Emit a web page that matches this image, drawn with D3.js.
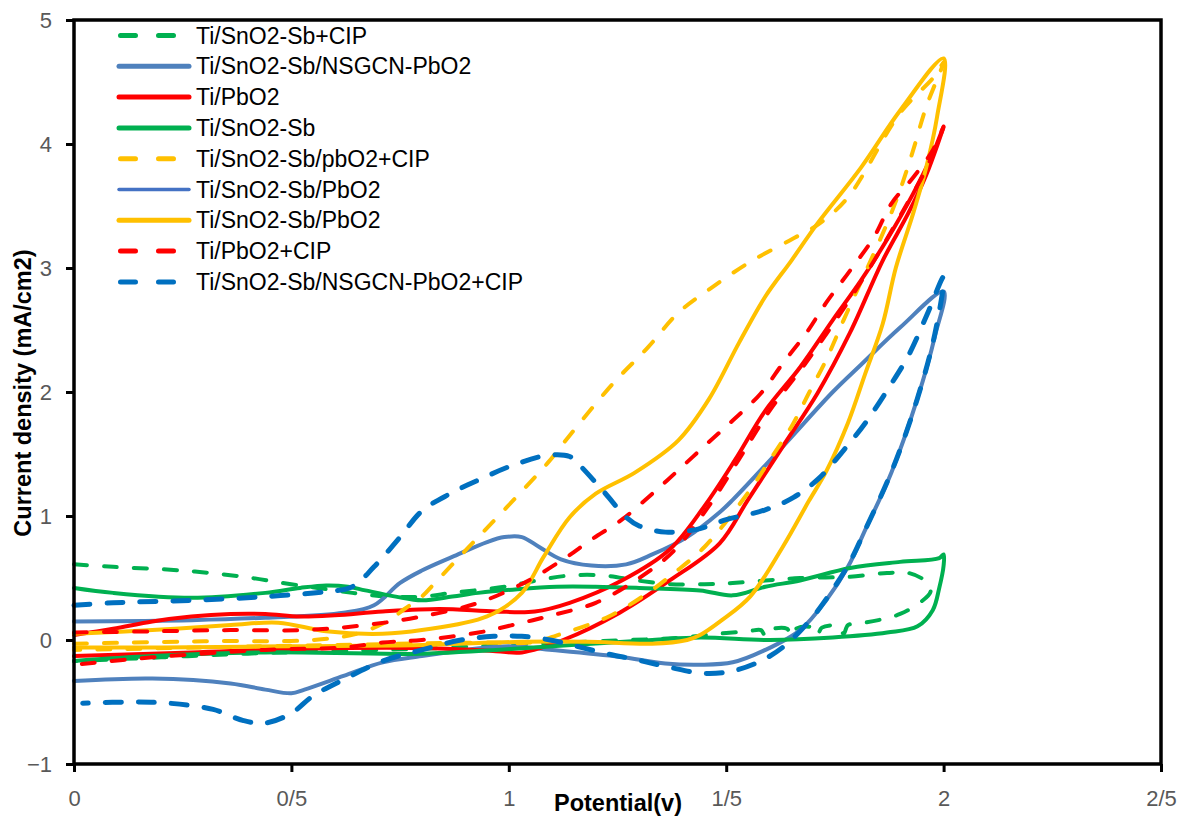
<!DOCTYPE html>
<html>
<head>
<meta charset="utf-8">
<script src="https://cdn.jsdelivr.net/npm/d3@7"></script>
<style>
  body { margin: 0; background: #fff; }
  svg { display: block; }
</style>
</head>
<body>
<script>
// cyclic voltammograms: [potential, current density]
const seriesNames = [
  "Ti/SnO2-Sb+CIP",
  "Ti/SnO2-Sb/NSGCN-PbO2",
  "Ti/PbO2",
  "Ti/SnO2-Sb",
  "Ti/SnO2-Sb/pbO2+CIP",
  "Ti/SnO2-Sb/PbO2",
  "Ti/SnO2-Sb/PbO2",
  "Ti/PbO2+CIP",
  "Ti/SnO2-Sb/NSGCN-PbO2+CIP"
]

const xTicks = [0, 0.5, 1, 1.5, 2, 2.5]
const xTickLabels = ["0", "0/5", "1", "1/5", "2", "2/5"]
const yTicks = [-1, 0, 1, 2, 3, 4, 5]

const snoSbCip = [
  [0,0.61],[0.09,0.59],[0.25,0.56],[0.39,0.51],[0.48,0.46],[0.56,0.42],[0.64,0.38],[0.72,0.35],
  [0.8,0.35],[0.87,0.38],[0.99,0.43],[1.065,0.48],[1.14,0.52],[1.22,0.52],[1.295,0.48],[1.37,0.45],
  [1.45,0.45],[1.515,0.46],[1.59,0.48],[1.67,0.5],[1.785,0.51],[1.87,0.54],[1.92,0.54],[1.96,0.47],
  [1.97,0.39],[1.945,0.3],[1.9,0.21],[1.85,0.16],[1.8,0.13],[1.78,0.12],[1.77,0.05],[1.76,0.11],
  [1.72,0.1],[1.71,0.04],[1.7,0.1],[1.66,0.09],[1.65,0.03],[1.64,0.09],[1.6,0.08],[1.59,0.03],
  [1.58,0.08],[1.55,0.07],[1.48,0.05],[1.4,0.02],[1.2,-0.01],[1.0,-0.04],[0.8,-0.07],[0.6,-0.09],
  [0.4,-0.11],[0.2,-0.14],[0,-0.17]
]

const nsgcnPbo2 = [
  [0,0.15],[0.27,0.16],[0.44,0.18],[0.62,0.22],[0.69,0.28],[0.75,0.46],[0.8,0.56],[0.87,0.67],
  [0.95,0.79],[0.99,0.83],[1.03,0.83],[1.07,0.75],[1.12,0.65],[1.19,0.6],[1.27,0.61],[1.33,0.69],
  [1.41,0.83],[1.485,1.03],[1.515,1.13],[1.63,1.56],[1.745,2.0],[1.81,2.22],[1.9,2.52],[2.0,2.81],
  [1.98,2.45],[1.94,1.95],[1.88,1.35],[1.82,0.89],[1.78,0.59],[1.73,0.32],[1.67,0.08],[1.59,-0.08],
  [1.515,-0.18],[1.44,-0.2],[1.36,-0.19],[1.255,-0.135],[1.1,-0.08],[1.0,-0.05],[0.9,-0.08],
  [0.8,-0.13],[0.71,-0.18],[0.62,-0.29],[0.53,-0.4],[0.5,-0.43],[0.44,-0.4],[0.36,-0.35],
  [0.18,-0.31],[0,-0.33]
]

const tiPbo2 = [
  [0,0.04],[0.09,0.09],[0.18,0.15],[0.27,0.19],[0.36,0.21],[0.44,0.21],[0.52,0.19],[0.6,0.2],
  [0.71,0.23],[0.84,0.25],[0.97,0.23],[1.06,0.23],[1.14,0.3],[1.26,0.48],[1.37,0.73],[1.45,1.08],
  [1.52,1.45],[1.59,1.85],[1.67,2.2],[1.745,2.58],[1.81,2.9],[1.87,3.23],[1.93,3.6],[1.975,3.92],
  [2.0,4.14],[1.96,3.75],[1.92,3.45],[1.86,3.06],[1.785,2.48],[1.71,1.99],[1.63,1.56],[1.55,1.13],
  [1.485,0.78],[1.37,0.48],[1.255,0.22],[1.125,0.0],[1.03,-0.1],[0.97,-0.09],[0.8,-0.065],
  [0.53,-0.07],[0.27,-0.1],[0,-0.13]
]

const snoSb = [
  [0,0.42],[0.09,0.38],[0.27,0.34],[0.44,0.38],[0.52,0.42],[0.58,0.44],[0.63,0.43],[0.67,0.4],
  [0.74,0.35],[0.8,0.32],[0.87,0.35],[0.93,0.38],[1.02,0.41],[1.11,0.43],[1.2,0.43],[1.3,0.42],
  [1.44,0.4],[1.515,0.36],[1.59,0.43],[1.67,0.48],[1.785,0.58],[1.9,0.63],[1.99,0.66],[2.0,0.69],
  [2.0,0.6],[1.99,0.42],[1.975,0.24],[1.94,0.11],[1.87,0.06],[1.745,0.02],[1.6,0.0],[1.44,0.02],
  [1.33,0.0],[1.1,-0.05],[0.8,-0.11],[0.44,-0.1],[0.18,-0.13],[0,-0.17]
]

const snoSbPbo2Cip = [
  [0,-0.03],[0.3,-0.01],[0.55,0.0],[0.65,0.05],[0.72,0.15],[0.76,0.25],[0.8,0.35],[0.83,0.46],
  [0.9,0.72],[0.96,0.94],[1.03,1.2],[1.09,1.43],[1.14,1.65],[1.24,2.07],[1.32,2.36],[1.39,2.64],
  [1.47,2.85],[1.56,3.06],[1.65,3.23],[1.715,3.36],[1.78,3.57],[1.9,4.25],[1.98,4.55],[2.0,4.66],
  [1.96,4.3],[1.93,3.95],[1.9,3.63],[1.87,3.36],[1.84,3.12],[1.77,2.58],[1.73,2.26],[1.69,1.99],
  [1.65,1.72],[1.6,1.45],[1.555,1.21],[1.45,0.75],[1.38,0.54],[1.32,0.38],[1.23,0.19],[1.13,0.06],
  [1.05,-0.02],[0.95,-0.02],[0.6,-0.04],[0.3,-0.06],[0,-0.08]
]

const snoSbPbo2Blue = []

const snoSbPbo2 = [
  [0,0.05],[0.18,0.08],[0.36,0.12],[0.47,0.14],[0.58,0.07],[0.71,0.05],[0.8,0.08],[0.95,0.19],
  [1.03,0.38],[1.08,0.67],[1.14,0.99],[1.2,1.18],[1.29,1.35],[1.39,1.61],[1.46,1.94],[1.53,2.4],
  [1.59,2.77],[1.65,3.06],[1.71,3.36],[1.81,3.81],[1.9,4.27],[2.0,4.69],[1.985,4.22],[1.96,3.81],
  [1.93,3.44],[1.89,3.0],[1.86,2.55],[1.82,2.15],[1.78,1.75],[1.73,1.36],[1.69,1.12],[1.63,0.75],
  [1.555,0.35],[1.49,0.16],[1.44,0.04],[1.41,0.0],[1.33,-0.03],[1.18,-0.015],[1.03,-0.015],
  [0.8,-0.04],[0.5,-0.05],[0.2,-0.06],[0,-0.06]
]

const tiPbo2Cip = [
  [0,0.06],[0.18,0.07],[0.36,0.08],[0.53,0.08],[0.67,0.12],[0.8,0.19],[0.93,0.3],[1.04,0.47],
  [1.125,0.65],[1.19,0.81],[1.26,0.97],[1.33,1.18],[1.39,1.37],[1.455,1.58],[1.515,1.77],[1.58,1.99],
  [1.63,2.23],[1.685,2.48],[1.73,2.72],[1.785,2.98],[1.84,3.25],[1.88,3.52],[1.93,3.73],[1.975,3.95],
  [2.0,4.14],[1.96,3.8],[1.9,3.42],[1.83,3.0],[1.76,2.62],[1.68,2.22],[1.6,1.85],[1.53,1.46],
  [1.46,1.08],[1.38,0.72],[1.3,0.5],[1.2,0.3],[1.1,0.2],[1.02,0.13],[0.93,0.06],[0.8,0.0],
  [0.71,-0.02],[0.62,-0.06],[0.44,-0.08],[0.18,-0.14],[0,-0.2]
]

const nsgcnPbo2Cip = [
  [0,0.28],[0.09,0.3],[0.27,0.32],[0.44,0.35],[0.58,0.39],[0.64,0.43],[0.69,0.59],[0.75,0.83],
  [0.8,1.04],[0.865,1.18],[0.93,1.29],[1.01,1.41],[1.09,1.49],[1.14,1.48],[1.16,1.42],[1.22,1.19],
  [1.27,0.99],[1.3,0.92],[1.36,0.87],[1.43,0.89],[1.5,0.97],[1.59,1.05],[1.655,1.15],[1.715,1.31],
  [1.77,1.53],[1.82,1.75],[1.875,2.04],[1.92,2.3],[1.965,2.65],[2.0,2.93],[1.98,2.47],[1.94,1.95],
  [1.885,1.4],[1.82,0.89],[1.78,0.6],[1.73,0.33],[1.7,0.19],[1.64,-0.03],[1.585,-0.16],[1.515,-0.25],
  [1.45,-0.27],[1.37,-0.22],[1.295,-0.16],[1.225,-0.11],[1.155,-0.05],[1.095,0.0],[1.03,0.03],
  [0.965,0.03],[0.89,0.0],[0.8,-0.08],[0.71,-0.17],[0.62,-0.32],[0.55,-0.45],[0.5,-0.59],
  [0.44,-0.67],[0.39,-0.65],[0.32,-0.56],[0.22,-0.51],[0.14,-0.5],[0.02,-0.51]
]

const seriesData = [snoSbCip, nsgcnPbo2, tiPbo2, snoSb, snoSbPbo2Cip, snoSbPbo2Blue, snoSbPbo2, tiPbo2Cip, nsgcnPbo2Cip]

// look of each series (same order as the legend)
const styles = [
  { color: "#00B050", width: 4, dash: true },
  { color: "#4F81BD", width: 4, dash: false },
  { color: "#FF0000", width: 4, dash: false },
  { color: "#00B050", width: 4, dash: false },
  { color: "#FFC000", width: 4, dash: true },
  { color: "#4472C4", width: 3, dash: false },
  { color: "#FFC000", width: 4, dash: false },
  { color: "#FF0000", width: 4, dash: true },
  { color: "#0070C0", width: 5, dash: true }
]

const width = 1180
const height = 816
const plotLeft = 74, plotRight = 1161, plotTop = 20, plotBottom = 764

const svg = d3.select("body").append("svg")
    .attr("width", width)
    .attr("height", height)
    .style("font-family", "'Liberation Sans', Arial, sans-serif")

const x = d3.scaleLinear().domain([0, 2.5]).range([plotLeft, plotRight])
const y = d3.scaleLinear().domain([-1, 5]).range([plotBottom, plotTop])

// curves
const line = d3.line()
    .x(d => x(d[0]))
    .y(d => y(d[1]))
    .curve(d3.curveCatmullRom.alpha(0.5))

const plot = svg.append("g")
seriesData.forEach((data, i) => {
    if (!data.length) return
    const s = styles[i]
    plot.append("path")
        .datum(data)
        .attr("d", line)
        .attr("fill", "none")
        .attr("stroke", s.color)
        .attr("stroke-width", s.width)
        .attr("stroke-linejoin", "round")
        .attr("stroke-linecap", "round")
        .attr("stroke-dasharray", s.dash ? (s.width > 4 ? "16,17" : "13,17") : null)
})

// frame
svg.append("rect")
    .attr("x", plotLeft).attr("y", plotTop)
    .attr("width", plotRight - plotLeft).attr("height", plotBottom - plotTop)
    .attr("fill", "none")
    .attr("stroke", "#000")
    .attr("stroke-width", 3.5)

// axes
const yAxis = svg.append("g")
    .attr("transform", `translate(${plotLeft},0)`)
    .call(d3.axisLeft(y).tickValues(yTicks).tickSize(8).tickPadding(14).tickFormat(d3.format("d")))
yAxis.select(".domain").remove()
yAxis.selectAll(".tick line").attr("stroke", "#000").attr("stroke-width", 3)
yAxis.selectAll(".tick text")
    .attr("fill", "#595959")
    .style("font-size", "22px")
    .style("font-family", "'Liberation Sans', Arial, sans-serif")

const xAxis = svg.append("g")
    .attr("transform", `translate(0,${plotBottom})`)
    .call(d3.axisBottom(x).tickValues(xTicks).tickSize(8).tickPadding(18)
        .tickFormat((d, i) => xTickLabels[i]))
xAxis.select(".domain").remove()
xAxis.selectAll(".tick line").attr("stroke", "#000").attr("stroke-width", 3)
xAxis.selectAll(".tick text")
    .attr("fill", "#595959")
    .style("font-size", "22px")
    .style("font-family", "'Liberation Sans', Arial, sans-serif")

// axis titles
svg.append("text")
    .attr("x", 618).attr("y", 811)
    .attr("text-anchor", "middle")
    .style("font-size", "23.5px")
    .style("font-weight", "bold")
    .text("Potential(v)")

svg.append("text")
    .attr("transform", "translate(31,393) rotate(-90)")
    .attr("text-anchor", "middle")
    .style("font-size", "23.5px")
    .style("font-weight", "bold")
    .text("Current density (mA/cm2)")

// legend
const legend = svg.append("g")
seriesNames.forEach((name, i) => {
    const s = styles[i]
    const ly = 35.5 + i * 30.8
    legend.append("line")
        .attr("x1", s.dash ? 120.5 : 119).attr("x2", s.dash ? 188 : 189)
        .attr("y1", ly).attr("y2", ly)
        .attr("stroke", s.color)
        .attr("stroke-width", s.dash ? 5 : (s.width < 4 ? 3.5 : 5))
        .attr("stroke-linecap", "round")
        .attr("stroke-dasharray", s.dash ? "15,23" : null)
    legend.append("text")
        .attr("x", 196).attr("y", ly + 8)
        .style("font-size", "23px")
        .attr("fill", "#000")
        .text(name)
})
</script>
</body>
</html>
